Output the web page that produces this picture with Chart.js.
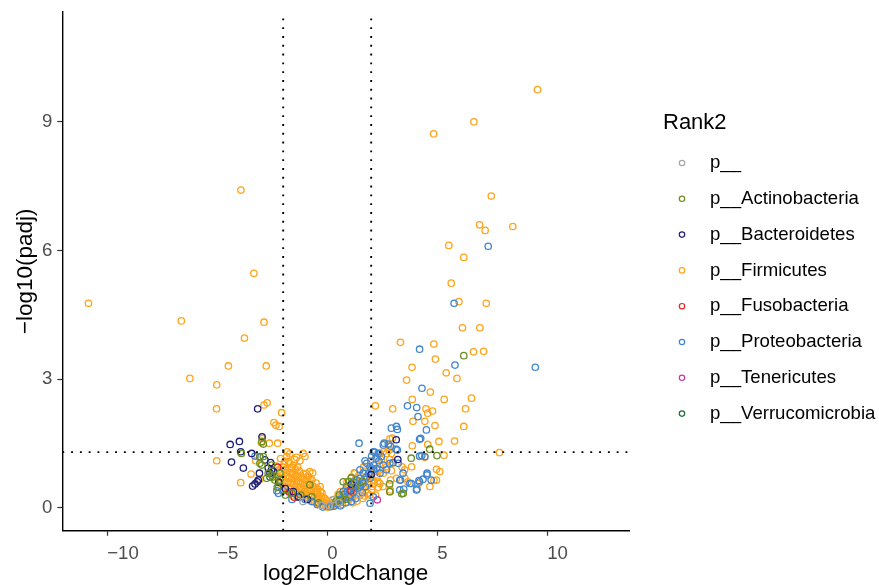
<!DOCTYPE html>
<html>
<head>
<meta charset="utf-8">
<script src="https://cdn.jsdelivr.net/npm/chart.js@4.4.0/dist/chart.umd.min.js"></script>
<style>
  html, body { margin: 0; padding: 0; background: #fff; }
  #wrap { width: 879px; height: 585px; }
</style>
</head>
<body>
<div id="wrap"><canvas id="volcano" width="879" height="585"></canvas></div>
<script>
// log2FoldChange / -log10(padj) pairs per phylum
const phylumNone = [
  [0.25,0.19],[0.10,0.05],[-0.25,0.06],[0.55,0.12],[1.50,0.30],[-1.10,0.15]
];

const actinobacteria = [
  [6.21,3.55],[4.66,1.37],[4.99,1.22],[3.82,1.16],[3.39,0.33],[2.84,0.56],[0.98,0.62],[1.10,0.70],
  [0.73,0.61],[2.85,0.38],[3.46,0.34],[0.40,0.15],[0.55,0.30],[0.82,0.20],[1.30,0.50],[1.60,0.62],
  [-2.90,1.49],[-3.90,1.27],[-3.06,1.20],[-2.90,1.20],[-2.75,0.69],[-2.52,0.77],[-2.97,1.55],[-2.97,1.00],
  [-2.68,0.81],[-2.48,0.72],[-2.38,0.65],[-2.15,0.65],[-2.27,0.48],[-3.06,1.04],[-2.53,1.00],[-2.15,0.81],
  [-0.79,0.54],[-0.70,0.26],[-1.90,0.30],[-1.60,0.35],[-1.20,0.30],[-0.40,0.12]
];

const bacteroidetes = [
  [-3.16,2.31],[-2.96,1.66],[-4.41,1.48],[-3.99,1.55],[-3.93,1.31],[-4.35,1.07],[-3.81,0.93],[-3.43,1.27],
  [-3.08,0.81],[-3.39,0.51],[-3.28,0.56],[-3.18,0.61],[-2.57,1.06],[-2.68,0.93],[-2.53,0.89],[-2.83,1.12],
  [-3.13,0.65],[-2.60,0.81],[-2.44,0.85],[-1.54,0.38],[-1.31,0.26],[-2.20,0.60],[-1.90,0.45],[-0.90,0.20],
  [3.14,1.59],[3.21,1.13],[1.10,0.55],[2.00,0.78]
];

const firmicutes = [
  [9.56,9.75],[6.67,9.00],[4.84,8.72],[7.46,7.27],[6.93,6.60],[7.18,6.47],[8.44,6.56],[5.53,6.12],
  [6.21,5.84],[5.64,5.24],[5.99,4.81],[7.23,4.77],[6.15,4.20],[6.94,4.20],
  [3.33,3.86],[4.85,3.82],[6.65,3.64],[7.11,3.65],[4.92,3.47],[3.86,3.28],[5.41,3.15],[5.90,3.02],
  [3.61,2.98],[4.69,2.70],[6.56,2.56],[5.32,2.53],[3.87,2.53],
  [2.19,2.38],[2.98,2.31],[4.49,2.31],[4.79,2.26],[4.57,2.21],[6.29,2.31],[3.90,2.02],[4.44,2.02],
  [4.90,1.92],[6.21,1.90],
  [2.97,1.63],[2.85,1.61],[2.80,1.47],[3.87,1.45],[4.57,1.48],[5.08,1.55],[5.79,1.56],[7.83,1.29],[5.31,1.23],
  [2.55,1.31],[2.40,1.27],[2.82,1.35],[2.70,1.27],[2.92,1.27],[2.24,1.20],[2.47,1.12],[2.85,1.13],
  [4.21,1.20],[4.44,1.18],
  [2.97,1.04],[3.52,0.89],[3.40,0.96],[3.84,0.96],[2.92,0.87],[4.97,0.90],[5.12,0.85],
  [3.15,0.69],[3.53,0.69],[4.14,0.57],[4.85,0.64],[4.97,0.65],[4.67,0.50],
  [2.87,0.42],[3.67,0.61],[2.54,0.50],[2.88,0.65],[2.85,0.38],[2.40,0.57],[2.10,0.65],[2.55,0.81],
  [2.70,0.96],[2.40,0.89],[1.26,0.81],[0.96,0.50],[1.19,0.38],[1.23,0.82],
  // right half of the central cloud
  [0.05,0.03],[0.12,0.07],[0.20,0.04],[0.28,0.12],[0.35,0.06],[0.42,0.18],[0.48,0.09],[0.56,0.25],
  [0.62,0.13],[0.70,0.32],[0.76,0.20],[0.82,0.42],[0.88,0.27],[0.94,0.14],[1.02,0.35],[1.08,0.56],
  [1.14,0.24],[1.20,0.46],[1.28,0.66],[1.32,0.30],[1.38,0.52],[1.44,0.76],[1.50,0.40],[1.56,0.60],
  [1.62,0.22],[1.68,0.48],[1.72,0.86],[1.78,0.66],[1.84,0.34],[1.90,0.55],[1.96,0.74],[2.02,0.42],
  [2.08,0.92],[2.14,0.58],[2.20,0.30],[2.26,0.72],[2.33,0.48],[2.38,1.02],[1.65,0.95],[1.98,1.10],
  [0.60,0.38],[0.90,0.60],[1.10,0.72],
  [0.50,0.32],[0.68,0.08],[0.80,0.30],[0.98,0.20],[1.16,0.12],[1.24,0.55],[1.36,0.16],[1.46,0.62],
  [1.58,0.44],[1.70,0.28],[1.86,0.62],[1.94,0.30],[2.06,0.50],[2.18,0.85],[2.30,0.62],
  // left side
  [-10.85,4.77],[-6.63,4.36],[-2.87,4.33],[-3.76,3.96],[-4.49,3.31],[-2.77,3.31],[-6.24,3.02],
  [-5.02,2.87],[-5.03,2.31],[-2.87,2.40],[-2.73,2.45],[-2.07,2.22],[-2.42,1.99],[-2.33,1.93],
  [-2.18,1.90],[-3.92,7.41],[-3.33,5.47],
  [-2.99,1.52],[-2.95,1.62],[-2.63,1.51],[-2.25,1.51],[-5.02,1.10],[-3.46,0.79],[-3.93,0.59],
  [-3.25,1.10],[-3.06,0.67],
  [-1.81,1.31],[-1.70,1.26],[-1.47,1.13],[-1.24,1.10],[-1.01,1.20],[-1.92,1.09],[-1.72,1.04],
  [-1.54,1.00],[-0.79,0.85],[-0.66,0.82],[-0.86,0.73],[-1.09,1.27],[-1.39,1.18],[-1.84,1.20],
  // left half of the central cloud
  [-2.35,0.98],[-2.28,0.72],[-2.16,0.58],[-2.12,1.15],[-2.05,0.84],[-1.98,0.66],[-1.96,1.02],
  [-1.90,0.49],[-1.88,0.90],[-1.82,0.74],[-1.78,0.60],[-1.75,1.08],[-1.70,0.83],[-1.66,0.45],
  [-1.62,0.68],[-1.60,0.95],[-1.55,0.56],[-1.52,0.78],[-1.46,0.38],[-1.44,0.90],[-1.40,0.63],
  [-1.36,0.50],[-1.33,0.74],[-1.28,0.32],[-1.26,0.86],[-1.22,0.58],[-1.18,0.44],[-1.15,0.68],
  [-1.10,0.26],[-1.08,0.80],[-1.04,0.52],[-1.00,0.38],[-0.98,0.64],[-0.93,0.22],[-0.90,0.47],
  [-0.88,0.74],[-0.84,0.33],[-0.80,0.56],[-0.76,0.18],[-0.74,0.42],[-0.70,0.66],[-0.66,0.28],
  [-0.62,0.50],[-0.58,0.14],[-0.55,0.36],[-0.50,0.58],[-0.47,0.22],[-0.43,0.44],[-0.40,0.10],
  [-0.36,0.30],[-0.32,0.50],[-0.28,0.16],[-0.24,0.35],[-0.20,0.07],[-0.16,0.24],[-0.12,0.12],
  [-0.08,0.04],[-0.04,0.18],[0.00,0.02],[0.04,0.09],[0.08,0.03],[0.16,0.06],[0.22,0.11],[0.32,0.20],
  [-2.22,0.88],[-2.10,0.70],[-2.02,0.95],[-1.93,0.58],[-1.86,0.82],[-1.80,0.40],[-1.73,0.70],
  [-1.68,0.93],[-1.64,0.58],[-1.58,0.30],[-1.56,0.82],[-1.50,0.68],[-1.48,0.50],[-1.42,0.74],
  [-1.38,0.40],[-1.34,0.95],[-1.30,0.62],[-1.24,0.48],[-1.20,0.72],[-1.16,0.34],[-1.12,0.58],
  [-1.06,0.66],[-1.02,0.45],[-0.96,0.30],[-0.94,0.80],[-0.86,0.54],[-0.82,0.40],[-0.78,0.68],
  [-0.72,0.30],[-0.68,0.52],[-0.60,0.40],[-0.56,0.24],[-0.52,0.46],[-0.45,0.32],[-0.38,0.20],
  [-0.30,0.38],[-0.26,0.26],[-0.18,0.15],[-0.10,0.22],[-0.02,0.10]
];

const fusobacteria = [[-2.25,0.95],[-1.72,0.37],[-1.50,0.25],[1.08,0.40]];

const proteobacteria = [
  [7.32,6.10],[5.77,4.77],[4.20,3.70],[9.46,3.28],[5.81,3.33],[4.31,2.79],[3.65,2.38],[4.07,2.34],
  [4.13,2.13],[4.51,1.82],[2.92,1.86],[3.15,1.90],[3.19,1.83],[4.20,1.60],[4.25,1.62],[2.59,1.51],
  [1.45,1.51],[3.13,1.37],[2.16,1.30],[3.19,1.35],[2.55,1.47],[2.78,1.49],[2.88,1.44],[4.20,1.21],
  [4.44,1.20],[4.30,1.22],[4.54,0.81],[4.73,0.65],[4.36,0.67],[4.17,0.64],[4.08,0.44],[3.83,0.57],
  [3.48,0.44],[3.33,0.65],[3.45,0.81],
  [2.10,1.31],[2.02,1.21],[2.22,1.16],[2.32,1.27],[2.47,1.20],[2.85,1.04],[3.00,1.06],[3.23,1.04],
  [1.80,1.04],[1.95,0.96],[2.10,0.89],[2.25,0.92],[2.40,0.81],[2.55,1.00],[2.70,0.89],
  [1.49,0.89],[1.64,0.81],[1.80,0.73],[1.95,0.69],[1.49,0.69],[1.64,0.58],[1.34,0.65],[1.19,0.61],
  [0.89,0.50],[1.04,0.42],[0.73,0.38],[3.30,0.65],[3.76,0.57],[3.30,0.42],[4.06,0.42],[4.20,0.61],
  [4.54,0.77],[2.10,0.26],[1.95,0.11],
  [0.30,0.04],[0.45,0.10],[0.60,0.05],[0.70,0.20],[0.85,0.12],[1.00,0.25],[1.10,0.15],[1.20,0.35],
  [1.30,0.22],[-0.20,0.02],[-0.45,0.08],[0.15,0.03],[-0.70,0.15],[-1.00,0.20],[-1.30,0.25],
  [0.55,0.20],[0.78,0.32],[0.92,0.38],[1.06,0.30],[1.18,0.48],[1.26,0.40],[1.40,0.46],[1.52,0.52],
  [1.60,0.36],[1.74,0.50],[1.88,0.80],[2.00,0.90],[2.12,1.00],[1.72,1.10],[2.35,1.10],
  [-2.22,0.34],[-3.28,1.21],[-3.06,1.18],[-2.29,0.40],[-2.20,0.49],[-2.00,0.40],[-1.60,0.20]
];

const tenericutes = [[2.28,0.19]];
const verrucomicrobia = [[-2.60,0.72],[0.62,0.18]];

const phylumNames = ['p__', 'p__Actinobacteria', 'p__Bacteroidetes', 'p__Firmicutes',
  'p__Fusobacteria', 'p__Proteobacteria', 'p__Tenericutes', 'p__Verrucomicrobia'];
const phylumData = [phylumNone, actinobacteria, bacteroidetes, firmicutes,
  fusobacteria, proteobacteria, tenericutes, verrucomicrobia];
const phylumColors = ['#a6a6a6', '#6b8e23', '#1e1e78', '#ffa31a',
  '#ee2222', '#4285d0', '#c8389f', '#1b6e33'];

const xTicks = [-10, -5, 0, 5, 10];
const yTicks = [0, 3, 6, 9];
const lfcCutoffs = [-2, 2];
const padjCutoff = 1.30103; // -log10(0.05)

const FONT = '"Liberation Sans", Arial, Helvetica, sans-serif';

// dotted cut-off lines drawn over the points
const thresholdLines = {
    id: 'thresholdLines',
    afterDatasetsDraw(chart) {
        const { ctx, chartArea: a, scales: { x, y } } = chart;
        ctx.save();
        ctx.strokeStyle = '#000';
        ctx.lineWidth = 1.9;
        ctx.setLineDash([1.9, 6.9]);
        lfcCutoffs.forEach(v => {
            const px = x.getPixelForValue(v);
            ctx.beginPath();
            ctx.moveTo(px, a.bottom);
            ctx.lineTo(px, a.top);
            ctx.stroke();
        });
        const py = y.getPixelForValue(padjCutoff);
        ctx.beginPath();
        ctx.moveTo(a.left, py);
        ctx.lineTo(a.right, py);
        ctx.stroke();
        ctx.restore();
    }
};

// ggplot-like legend on the right side
const rankLegend = {
    id: 'rankLegend',
    afterDraw(chart) {
        const ctx = chart.ctx;
        ctx.save();
        ctx.fillStyle = '#000';
        ctx.textBaseline = 'middle';
        ctx.textAlign = 'left';
        ctx.font = '22px ' + FONT;
        ctx.fillText('Rank2', 663, 123);
        ctx.font = '18.6px ' + FONT;
        chart.data.datasets.forEach((ds, i) => {
            const cy = 163 + i * 35.8;
            ctx.beginPath();
            ctx.arc(682, cy, 2.7, 0, Math.PI * 2);
            ctx.lineWidth = 1.2;
            ctx.strokeStyle = ds.borderColor;
            ctx.stroke();
            ctx.fillStyle = '#000';
            ctx.fillText(ds.label, 710, cy);
        });
        ctx.restore();
    }
};

const datasets = phylumNames.map((name, i) => ({
    label: name,
    data: phylumData[i].map(p => ({ x: p[0], y: p[1] })),
    borderColor: phylumColors[i],
    backgroundColor: 'rgba(0,0,0,0)',
    pointStyle: 'circle',
    pointRadius: 3.2,
    pointHoverRadius: 3.2,
    pointBorderWidth: 1.3,
    order: name === 'p__Firmicutes' ? 1 : 0
}));

new Chart(document.getElementById('volcano'), {
    type: 'scatter',
    data: { datasets },
    options: {
        responsive: false,
        animation: false,
        devicePixelRatio: 1,
        layout: { padding: { top: 12, right: 250, left: 0, bottom: 0 } },
        plugins: {
            legend: { display: false },
            tooltip: { enabled: false }
        },
        scales: {
            x: {
                type: 'linear',
                min: -12.04,
                max: 13.72,
                afterBuildTicks: s => { s.ticks = xTicks.map(v => ({ value: v })); },
                afterFit: s => { s.height = 54.3; s.paddingLeft = 0; s.paddingRight = 0; },
                grid: { display: true, drawOnChartArea: false, drawTicks: true, tickLength: 5, tickColor: '#333', tickWidth: 1.2 },
                border: { display: true, color: '#000', width: 1.4 },
                ticks: {
                    align: 'start',
                    padding: 7,
                    color: '#4d4d4d',
                    font: { family: FONT, size: 18.6 },
                    callback: v => (v < 0 ? '\u2212' + Math.abs(v) : String(v))
                },
                title: {
                    display: true,
                    text: 'log2FoldChange',
                    color: '#000',
                    font: { family: FONT, size: 22.5, lineHeight: 1 },
                    padding: { top: 0, bottom: 0 }
                }
            },
            y: {
                type: 'linear',
                min: -0.53,
                max: 11.56,
                afterBuildTicks: s => { s.ticks = yTicks.map(v => ({ value: v })); },
                afterFit: s => { s.width = 62.3; s.paddingTop = 0; s.paddingBottom = 0; },
                grid: { display: true, drawOnChartArea: false, drawTicks: true, tickLength: 5, tickColor: '#333', tickWidth: 1.2 },
                border: { display: true, color: '#000', width: 1.4 },
                ticks: {
                    padding: 5,
                    color: '#4d4d4d',
                    font: { family: FONT, size: 18.6 }
                },
                title: {
                    display: true,
                    text: '\u2212log10(padj)',
                    color: '#000',
                    font: { family: FONT, size: 22.5, lineHeight: 1 },
                    padding: { top: 15, bottom: 0 }
                }
            }
        }
    },
    plugins: [thresholdLines, rankLegend]
});
</script>
</body>
</html>
